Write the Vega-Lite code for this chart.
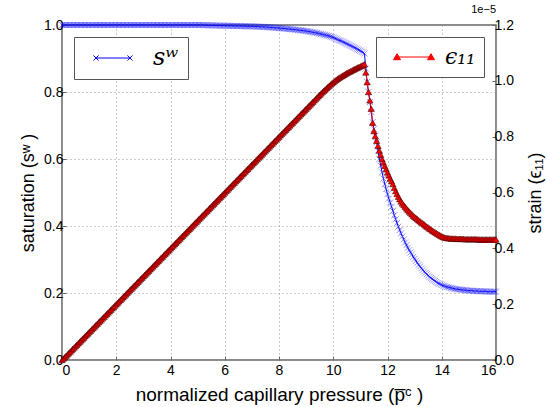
{
"$schema":"https://vega.github.io/schema/vega-lite/v6.json",
"width":434,"height":335,
"autosize":{"type":"none"},
"padding":{"left":62,"top":25,"right":51,"bottom":47},
"title":{"text":"1e−5","anchor":"end","frame":"group","fontSize":11,"fontWeight":"normal","offset":3,"color":"black","font":"Liberation Sans"},
"config":{"font":"Liberation Sans","axis":{"labelFontSize":14,"labelColor":"black","titleFontSize":18,"titleFontWeight":"normal","titleColor":"black","tickColor":"#666","domain":false,"tickSize":-4,"labelPadding":4,"gridColor":"#999","gridDash":[1,3],"gridWidth":1},"view":{"stroke":"#666","strokeWidth":1.5}},
"data":{"values":[
{"x":0,"s":1,"e":0},{"x":0.05,"s":1,"e":0.05e-6},{"x":0.1,"s":1,"e":0.1e-6},{"x":0.15,"s":1,"e":0.15e-6},{"x":0.2,"s":1,"e":0.2e-6},{"x":0.25,"s":1,"e":0.25e-6},{"x":0.3,"s":1,"e":0.3e-6},{"x":0.35,"s":1,"e":0.35e-6},{"x":0.4,"s":1,"e":0.4e-6},{"x":0.45,"s":1,"e":0.45e-6},
{"x":0.5,"s":1,"e":0.5e-6},{"x":0.55,"s":1,"e":0.55e-6},{"x":0.6,"s":1,"e":0.6e-6},{"x":0.65,"s":1,"e":0.65e-6},{"x":0.7,"s":1,"e":0.7e-6},{"x":0.75,"s":1,"e":0.75e-6},{"x":0.8,"s":1,"e":0.8e-6},{"x":0.85,"s":1,"e":0.85e-6},{"x":0.9,"s":1,"e":0.9e-6},{"x":0.95,"s":1,"e":0.95e-6},
{"x":1.0,"s":1,"e":1.0e-6},{"x":1.05,"s":1,"e":1.05e-6},{"x":1.1,"s":1,"e":1.1e-6},{"x":1.15,"s":1,"e":1.15e-6},{"x":1.2,"s":1,"e":1.2e-6},{"x":1.25,"s":1,"e":1.25e-6},{"x":1.3,"s":1,"e":1.3e-6},{"x":1.35,"s":1,"e":1.35e-6},{"x":1.4,"s":1,"e":1.4e-6},{"x":1.45,"s":1,"e":1.45e-6},
{"x":1.5,"s":1,"e":1.5e-6},{"x":1.55,"s":1,"e":1.55e-6},{"x":1.6,"s":1,"e":1.6e-6},{"x":1.65,"s":1,"e":1.65e-6},{"x":1.7,"s":1,"e":1.7e-6},{"x":1.75,"s":1,"e":1.75e-6},{"x":1.8,"s":1,"e":1.8e-6},{"x":1.85,"s":1,"e":1.85e-6},{"x":1.9,"s":1,"e":1.9e-6},{"x":1.95,"s":1,"e":1.95e-6},
{"x":2.0,"s":1,"e":2.0e-6},{"x":2.05,"s":1,"e":2.05e-6},{"x":2.1,"s":1,"e":2.1e-6},{"x":2.15,"s":1,"e":2.15e-6},{"x":2.2,"s":1,"e":2.2e-6},{"x":2.25,"s":1,"e":2.25e-6},{"x":2.3,"s":1,"e":2.3e-6},{"x":2.35,"s":1,"e":2.35e-6},{"x":2.4,"s":1,"e":2.4e-6},{"x":2.45,"s":1,"e":2.45e-6},
{"x":2.5,"s":1,"e":2.5e-6},{"x":2.55,"s":1,"e":2.55e-6},{"x":2.6,"s":1,"e":2.6e-6},{"x":2.65,"s":1,"e":2.65e-6},{"x":2.7,"s":1,"e":2.7e-6},{"x":2.75,"s":1,"e":2.75e-6},{"x":2.8,"s":1,"e":2.8e-6},{"x":2.85,"s":1,"e":2.85e-6},{"x":2.9,"s":1,"e":2.9e-6},{"x":2.95,"s":1,"e":2.95e-6},
{"x":3.0,"s":1,"e":3.0e-6},{"x":3.05,"s":1,"e":3.05e-6},{"x":3.1,"s":1,"e":3.1e-6},{"x":3.15,"s":1,"e":3.15e-6},{"x":3.2,"s":1,"e":3.2e-6},{"x":3.25,"s":1,"e":3.25e-6},{"x":3.3,"s":1,"e":3.3e-6},{"x":3.35,"s":1,"e":3.35e-6},{"x":3.4,"s":1,"e":3.4e-6},{"x":3.45,"s":1,"e":3.45e-6},
{"x":3.5,"s":1,"e":3.5e-6},{"x":3.55,"s":1,"e":3.55e-6},{"x":3.6,"s":1,"e":3.6e-6},{"x":3.65,"s":1,"e":3.65e-6},{"x":3.7,"s":1,"e":3.7e-6},{"x":3.75,"s":1,"e":3.75e-6},{"x":3.8,"s":1,"e":3.8e-6},{"x":3.85,"s":1,"e":3.85e-6},{"x":3.9,"s":1,"e":3.9e-6},{"x":3.95,"s":1,"e":3.95e-6},
{"x":4.0,"s":1,"e":4.0e-6},{"x":4.05,"s":1,"e":4.05e-6},{"x":4.1,"s":1,"e":4.1e-6},{"x":4.15,"s":1,"e":4.15e-6},{"x":4.2,"s":1,"e":4.2e-6},{"x":4.25,"s":1,"e":4.25e-6},{"x":4.3,"s":1,"e":4.3e-6},{"x":4.35,"s":1,"e":4.35e-6},{"x":4.4,"s":1,"e":4.4e-6},{"x":4.45,"s":1,"e":4.45e-6},
{"x":4.5,"s":1,"e":4.5e-6},{"x":4.55,"s":1,"e":4.55e-6},{"x":4.6,"s":1,"e":4.6e-6},{"x":4.65,"s":1,"e":4.65e-6},{"x":4.7,"s":1,"e":4.7e-6},{"x":4.75,"s":1,"e":4.75e-6},{"x":4.8,"s":1,"e":4.8e-6},{"x":4.85,"s":1,"e":4.85e-6},{"x":4.9,"s":1,"e":4.9e-6},{"x":4.95,"s":1,"e":4.95e-6},
{"x":5.0,"s":1,"e":5.0e-6},{"x":5.05,"s":1,"e":5.05e-6},{"x":5.1,"s":1,"e":5.1e-6},{"x":5.15,"s":1,"e":5.15e-6},{"x":5.2,"s":0.9995,"e":5.2e-6},{"x":5.25,"s":0.9995,"e":5.25e-6},{"x":5.3,"s":0.9995,"e":5.3e-6},{"x":5.35,"s":0.9993,"e":5.35e-6},{"x":5.4,"s":0.999,"e":5.4e-6},{"x":5.45,"s":0.999,"e":5.45e-6},
{"x":5.5,"s":0.999,"e":5.5e-6},{"x":5.55,"s":0.9989,"e":5.55e-6},{"x":5.6,"s":0.9988,"e":5.6e-6},{"x":5.65,"s":0.9986,"e":5.65e-6},{"x":5.7,"s":0.9985,"e":5.7e-6},{"x":5.75,"s":0.9984,"e":5.75e-6},{"x":5.8,"s":0.9983,"e":5.8e-6},{"x":5.85,"s":0.9981,"e":5.85e-6},{"x":5.9,"s":0.998,"e":5.9e-6},{"x":5.95,"s":0.998,"e":5.95e-6},
{"x":6.0,"s":0.998,"e":6.0e-6},{"x":6.05,"s":0.9979,"e":6.05e-6},{"x":6.1,"s":0.9978,"e":6.1e-6},{"x":6.15,"s":0.9976,"e":6.15e-6},{"x":6.2,"s":0.9975,"e":6.2e-6},{"x":6.25,"s":0.9974,"e":6.25e-6},{"x":6.3,"s":0.9973,"e":6.3e-6},{"x":6.35,"s":0.9971,"e":6.35e-6},{"x":6.4,"s":0.997,"e":6.4e-6},{"x":6.45,"s":0.997,"e":6.45e-6},
{"x":6.5,"s":0.997,"e":6.5e-6},{"x":6.55,"s":0.9968,"e":6.55e-6},{"x":6.6,"s":0.9967,"e":6.6e-6},{"x":6.65,"s":0.9966,"e":6.65e-6},{"x":6.7,"s":0.9965,"e":6.7e-6},{"x":6.75,"s":0.9963,"e":6.75e-6},{"x":6.8,"s":0.9962,"e":6.8e-6},{"x":6.85,"s":0.9961,"e":6.85e-6},{"x":6.9,"s":0.996,"e":6.9e-6},{"x":6.95,"s":0.996,"e":6.95e-6},
{"x":7.0,"s":0.996,"e":7.0e-6},{"x":7.05,"s":0.9958,"e":7.05e-6},{"x":7.1,"s":0.9956,"e":7.1e-6},{"x":7.15,"s":0.9954,"e":7.15e-6},{"x":7.2,"s":0.9952,"e":7.2e-6},{"x":7.25,"s":0.995,"e":7.25e-6},{"x":7.3,"s":0.9948,"e":7.3e-6},{"x":7.35,"s":0.9946,"e":7.35e-6},{"x":7.4,"s":0.9944,"e":7.4e-6},{"x":7.45,"s":0.9942,"e":7.45e-6},
{"x":7.5,"s":0.994,"e":7.5e-6},{"x":7.55,"s":0.9937,"e":7.55e-6},{"x":7.6,"s":0.9934,"e":7.6e-6},{"x":7.65,"s":0.9931,"e":7.65e-6},{"x":7.7,"s":0.9928,"e":7.7e-6},{"x":7.75,"s":0.9925,"e":7.75e-6},{"x":7.8,"s":0.9922,"e":7.8e-6},{"x":7.85,"s":0.9919,"e":7.85e-6},{"x":7.9,"s":0.9916,"e":7.9e-6},{"x":7.95,"s":0.9913,"e":7.95e-6},
{"x":8.0,"s":0.991,"e":8.0e-6},{"x":8.05,"s":0.9906,"e":8.05e-6},{"x":8.1,"s":0.9902,"e":8.1e-6},{"x":8.15,"s":0.9898,"e":8.15e-6},{"x":8.2,"s":0.9894,"e":8.2e-6},{"x":8.25,"s":0.989,"e":8.25e-6},{"x":8.3,"s":0.9886,"e":8.3e-6},{"x":8.35,"s":0.9882,"e":8.35e-6},{"x":8.4,"s":0.9878,"e":8.4e-6},{"x":8.45,"s":0.9874,"e":8.45e-6},
{"x":8.5,"s":0.987,"e":8.5e-6},{"x":8.55,"s":0.9865,"e":8.55e-6},{"x":8.6,"s":0.986,"e":8.6e-6},{"x":8.65,"s":0.9855,"e":8.65e-6},{"x":8.7,"s":0.985,"e":8.7e-6},{"x":8.75,"s":0.9845,"e":8.75e-6},{"x":8.8,"s":0.984,"e":8.8e-6},{"x":8.85,"s":0.9835,"e":8.85e-6},{"x":8.9,"s":0.983,"e":8.9e-6},{"x":8.95,"s":0.9825,"e":8.95e-6},
{"x":9.0,"s":0.982,"e":9.0e-6},{"x":9.05,"s":0.9812,"e":9.05e-6},{"x":9.1,"s":0.9805,"e":9.1e-6},{"x":9.15,"s":0.9797,"e":9.15e-6},{"x":9.2,"s":0.979,"e":9.2e-6},{"x":9.25,"s":0.9782,"e":9.25e-6},{"x":9.3,"s":0.9775,"e":9.3e-6},{"x":9.35,"s":0.9767,"e":9.35e-6},{"x":9.4,"s":0.976,"e":9.4e-6},{"x":9.45,"s":0.975,"e":9.45e-6},
{"x":9.5,"s":0.974,"e":9.5e-6},{"x":9.55,"s":0.973,"e":9.55e-6},{"x":9.6,"s":0.972,"e":9.6e-6},{"x":9.65,"s":0.971,"e":9.645e-6},{"x":9.7,"s":0.970,"e":9.69e-6},{"x":9.75,"s":0.969,"e":9.735e-6},{"x":9.8,"s":0.968,"e":9.78e-6},{"x":9.85,"s":0.9668,"e":9.825e-6},{"x":9.9,"s":0.9655,"e":9.87e-6},{"x":9.95,"s":0.9643,"e":9.91e-6},
{"x":10.0,"s":0.963,"e":9.95e-6},{"x":10.05,"s":0.961,"e":9.99e-6},{"x":10.1,"s":0.959,"e":1.003e-5},{"x":10.15,"s":0.957,"e":1.0065e-5},{"x":10.2,"s":0.955,"e":1.01e-5},{"x":10.25,"s":0.9535,"e":1.013e-5},{"x":10.3,"s":0.952,"e":1.016e-5},{"x":10.35,"s":0.95,"e":1.019e-5},{"x":10.4,"s":0.948,"e":1.022e-5},{"x":10.45,"s":0.946,"e":1.025e-5},
{"x":10.5,"s":0.944,"e":1.028e-5},{"x":10.55,"s":0.942,"e":1.0305e-5},{"x":10.6,"s":0.94,"e":1.033e-5},{"x":10.65,"s":0.938,"e":1.0355e-5},{"x":10.7,"s":0.936,"e":1.038e-5},{"x":10.75,"s":0.934,"e":1.0405e-5},{"x":10.8,"s":0.932,"e":1.043e-5},{"x":10.85,"s":0.9298,"e":1.0455e-5},{"x":10.9,"s":0.9275,"e":1.048e-5},{"x":10.95,"s":0.9253,"e":1.05e-5},
{"x":11.0,"s":0.923,"e":1.052e-5},{"x":11.05,"s":0.9205,"e":1.0545e-5},{"x":11.1,"s":0.918,"e":1.057e-5},{"x":11.15,"s":0.915,"e":1.06e-5},{"x":11.2,"s":0.87,"e":1.03e-5},{"x":11.25,"s":0.83,"e":9.95e-6},{"x":11.3,"s":0.80,"e":9.6e-6},{"x":11.35,"s":0.77,"e":9.3e-6},{"x":11.4,"s":0.74,"e":9.0e-6},{"x":11.45,"s":0.71,"e":8.5e-6},
{"x":11.5,"s":0.69,"e":8.2e-6},{"x":11.55,"s":0.67,"e":8.02e-6},{"x":11.6,"s":0.65,"e":7.85e-6},{"x":11.65,"s":0.625,"e":7.67e-6},{"x":11.7,"s":0.60,"e":7.5e-6},{"x":11.75,"s":0.58,"e":7.35e-6},{"x":11.8,"s":0.56,"e":7.2e-6},{"x":11.85,"s":0.542,"e":7.07e-6},{"x":11.9,"s":0.525,"e":6.95e-6},{"x":11.95,"s":0.51,"e":6.83e-6},
{"x":12.0,"s":0.495,"e":6.72e-6},{"x":12.05,"s":0.482,"e":6.61e-6},{"x":12.1,"s":0.47,"e":6.5e-6},{"x":12.15,"s":0.457,"e":6.4e-6},{"x":12.2,"s":0.445,"e":6.3e-6},{"x":12.25,"s":0.432,"e":6.17e-6},{"x":12.3,"s":0.42,"e":6.05e-6},{"x":12.35,"s":0.409,"e":5.95e-6},{"x":12.4,"s":0.398,"e":5.85e-6},{"x":12.45,"s":0.388,"e":5.76e-6},
{"x":12.5,"s":0.378,"e":5.68e-6},{"x":12.55,"s":0.369,"e":5.61e-6},{"x":12.6,"s":0.36,"e":5.55e-6},{"x":12.65,"s":0.351,"e":5.49e-6},{"x":12.7,"s":0.343,"e":5.43e-6},{"x":12.75,"s":0.335,"e":5.37e-6},{"x":12.8,"s":0.328,"e":5.32e-6},{"x":12.85,"s":0.321,"e":5.27e-6},{"x":12.9,"s":0.315,"e":5.22e-6},{"x":12.95,"s":0.308,"e":5.17e-6},
{"x":13.0,"s":0.302,"e":5.13e-6},{"x":13.05,"s":0.296,"e":5.09e-6},{"x":13.1,"s":0.29,"e":5.05e-6},{"x":13.15,"s":0.284,"e":5.01e-6},{"x":13.2,"s":0.279,"e":4.97e-6},{"x":13.25,"s":0.274,"e":4.93e-6},{"x":13.3,"s":0.269,"e":4.9e-6},{"x":13.35,"s":0.264,"e":4.86e-6},{"x":13.4,"s":0.26,"e":4.82e-6},{"x":13.45,"s":0.256,"e":4.78e-6},
{"x":13.5,"s":0.252,"e":4.75e-6},{"x":13.55,"s":0.248,"e":4.71e-6},{"x":13.6,"s":0.245,"e":4.68e-6},{"x":13.65,"s":0.242,"e":4.64e-6},{"x":13.7,"s":0.239,"e":4.61e-6},{"x":13.75,"s":0.236,"e":4.58e-6},{"x":13.8,"s":0.233,"e":4.55e-6},{"x":13.85,"s":0.23,"e":4.52e-6},{"x":13.9,"s":0.228,"e":4.49e-6},{"x":13.95,"s":0.226,"e":4.46e-6},
{"x":14.0,"s":0.224,"e":4.43e-6},{"x":14.05,"s":0.222,"e":4.41e-6},{"x":14.1,"s":0.221,"e":4.39e-6},{"x":14.15,"s":0.219,"e":4.38e-6},{"x":14.2,"s":0.218,"e":4.37e-6},{"x":14.25,"s":0.217,"e":4.36e-6},{"x":14.3,"s":0.216,"e":4.36e-6},{"x":14.35,"s":0.215,"e":4.35e-6},{"x":14.4,"s":0.214,"e":4.35e-6},{"x":14.45,"s":0.213,"e":4.35e-6},
{"x":14.5,"s":0.212,"e":4.35e-6},{"x":14.55,"s":0.2115,"e":4.34e-6},{"x":14.6,"s":0.211,"e":4.34e-6},{"x":14.65,"s":0.2105,"e":4.34e-6},{"x":14.7,"s":0.21,"e":4.34e-6},{"x":14.75,"s":0.2095,"e":4.34e-6},{"x":14.8,"s":0.209,"e":4.34e-6},{"x":14.85,"s":0.2085,"e":4.33e-6},{"x":14.9,"s":0.208,"e":4.33e-6},{"x":14.95,"s":0.2075,"e":4.33e-6},
{"x":15.0,"s":0.207,"e":4.33e-6},{"x":15.05,"s":0.207,"e":4.33e-6},{"x":15.1,"s":0.207,"e":4.33e-6},{"x":15.15,"s":0.2065,"e":4.33e-6},{"x":15.2,"s":0.206,"e":4.33e-6},{"x":15.25,"s":0.206,"e":4.33e-6},{"x":15.3,"s":0.206,"e":4.33e-6},{"x":15.35,"s":0.2055,"e":4.32e-6},{"x":15.4,"s":0.205,"e":4.32e-6},{"x":15.45,"s":0.205,"e":4.32e-6},
{"x":15.5,"s":0.205,"e":4.32e-6},{"x":15.55,"s":0.205,"e":4.32e-6},{"x":15.6,"s":0.205,"e":4.32e-6},{"x":15.65,"s":0.2045,"e":4.32e-6},{"x":15.7,"s":0.204,"e":4.32e-6},{"x":15.75,"s":0.204,"e":4.32e-6},{"x":15.8,"s":0.204,"e":4.32e-6},{"x":15.85,"s":0.204,"e":4.32e-6},{"x":15.9,"s":0.204,"e":4.32e-6},{"x":15.95,"s":0.204,"e":4.32e-6},
{"x":16.0,"s":0.204,"e":4.32e-6}
]},
"layer":[
 {"encoding":{
   "x":{"field":"x","type":"quantitative","scale":{"domain":[0,16],"nice":false,"zero":false},"axis":{"values":[0,2,4,6,8,10,12,14,16],"grid":true,"title":"normalized capillary pressure (p̅ᶜ )","titleFontSize":19,"titlePadding":8,"labelPadding":7}},
   "y":{"field":"s","type":"quantitative","scale":{"domain":[0,1],"nice":false},"axis":{"orient":"left","values":[0,0.2,0.4,0.6,0.8,1],"format":".1f","grid":true,"title":"saturation (sʷ )","titlePadding":6,"labelPadding":3}}
  },
  "layer":[
   {"mark":{"type":"line","color":"#0000ff","strokeWidth":1}},
   {"mark":{"type":"point","shape":"M-1,-1L1,1M-1,1L1,-1","filled":false,"size":36,"strokeWidth":1,"opacity":0.4},
    "encoding":{"color":{"datum":"sʷ","scale":{"range":["#0000ff"]},"legend":{"orient":"top-left","offset":12,"title":null,"symbolType":"M0.17,0L5.83,0M-0.25,-0.42L0.59,0.42M-0.25,0.42L0.59,-0.42M5.41,-0.42L6.25,0.42M5.41,0.42L6.25,-0.42","symbolSize":144,"symbolStrokeWidth":1,"symbolOpacity":1,"labelFont":"DejaVu Serif","labelFontSize":24,"labelFontStyle":"italic","labelOffset":46,"padding":9,"strokeColor":"#555","fillColor":"white","labelColor":"black"}}}}
  ]},
 {"encoding":{
   "x":{"field":"x","type":"quantitative"},
   "y":{"field":"e","type":"quantitative","scale":{"domain":[0,1.2e-5],"nice":false},"axis":{"orient":"right","values":[0,2e-6,4e-6,6e-6,8e-6,1e-5,1.2e-5],"labelExpr":"format(datum.value*1e5,'.1f')","grid":false,"labelPadding":2,"title":"strain (ϵ₁₁)","titleAngle":270,"titleBaseline":"top","titlePadding":13}}
  },
  "layer":[
   {"mark":{"type":"line","color":"#ff0000","strokeWidth":1}},
   {"mark":{"type":"point","shape":"triangle-up","filled":true,"size":40,"stroke":"#330000","strokeWidth":0.5,"opacity":1},
    "encoding":{"color":{"datum":"ϵ₁₁","scale":{"range":["#ff0000"]},"legend":{"orient":"top-right","offset":12,"title":null,"symbolType":"M0.17,0L5.83,0M-0.41,0.45L0.17,-0.55L0.75,0.45ZM5.25,0.45L5.83,-0.55L6.41,0.45Z","symbolSize":144,"symbolStrokeWidth":1,"symbolStrokeColor":"#ff0000","symbolFillColor":"#ff0000","symbolOpacity":1,"labelFont":"DejaVu Serif","labelFontSize":22,"labelFontStyle":"italic","labelOffset":38,"padding":9,"strokeColor":"#555","fillColor":"white","labelColor":"black"}}}}
  ]}
],
"resolve":{"scale":{"y":"independent","color":"independent"}}
}
